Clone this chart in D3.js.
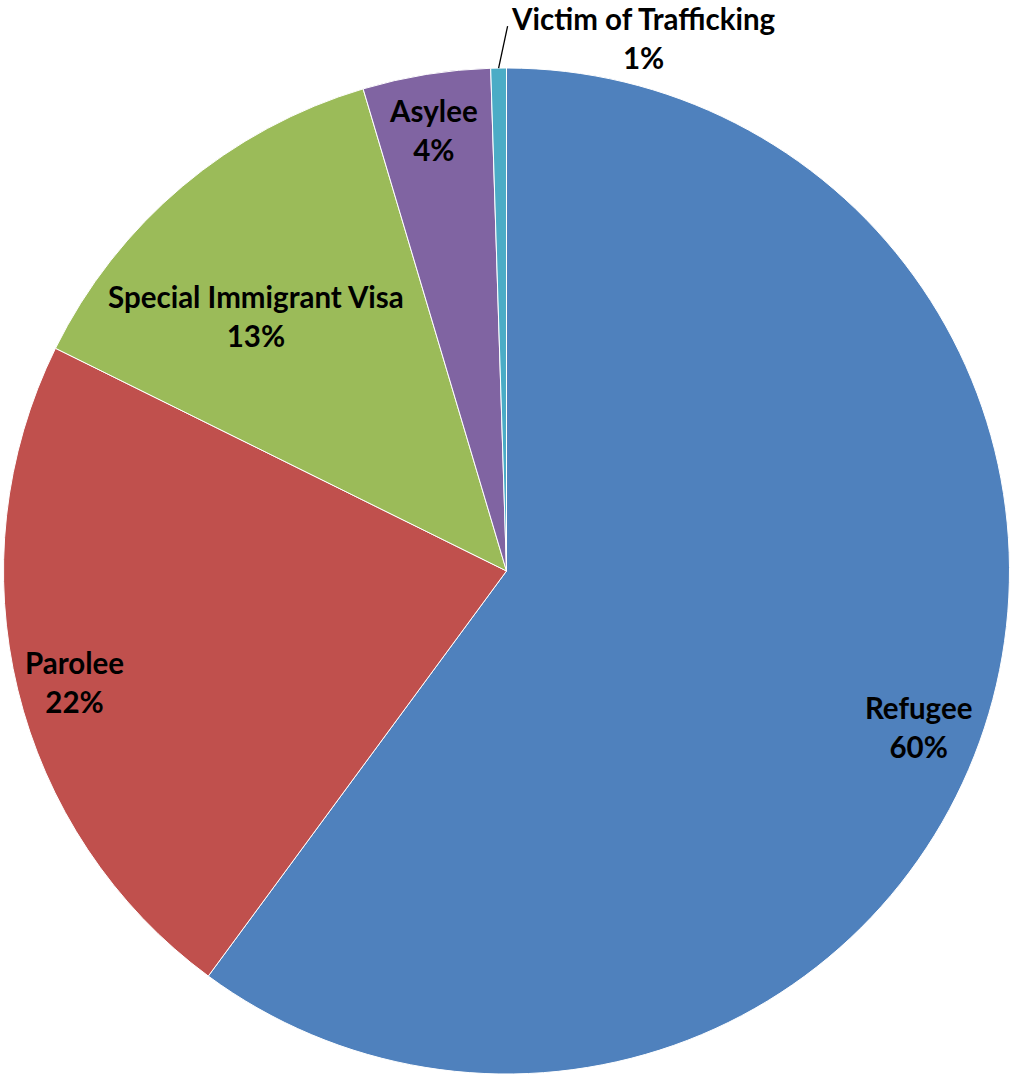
<!DOCTYPE html>
<html>
<head>
<meta charset="utf-8">
<script src="https://cdn.jsdelivr.net/npm/d3@7"></script>
<style>
  html, body { margin: 0; padding: 0; background: #fff; }
  svg { display: block; }
  text { font-family: Lato, "Open Sans", sans-serif; font-weight: bold; fill: #000; }
</style>
</head>
<body>
<svg id="chart" width="1012" height="1076"></svg>
<script>
// Share of arrivals by immigration status (percent)
const categories = ["Refugee", "Parolee", "Special Immigrant Visa", "Asylee", "Victim of Trafficking"];
const shares = [60.1, 22.2, 13.1, 4.1, 0.5];
const colors = ["#4F81BD", "#C0504D", "#9BBB59", "#8064A2", "#4BACC6"];
// label placement: fraction of the radius, and a small angular nudge (degrees) off the bisector
const labelDistance = [0.877, 0.887, 0.709, 0.886, null];
const labelNudge = [2.7, -0.8, -4.5, -0.2, 0];

const svg = d3.select("#chart");
const cx = 506.5, cy = 571, radius = 503;
const g = svg.append("g").attr("transform", `translate(${cx},${cy})`);

const data = categories.map((c, i) => ({
  name: c, value: shares[i], color: colors[i], dist: labelDistance[i], nudge: labelNudge[i]
}));
const total = d3.sum(shares);
const pct = d3.format(".0%");

const pie = d3.pie().sort(null).value(d => d.value);
const arcs = pie(data);
const arc = d3.arc().innerRadius(0).outerRadius(radius);

g.selectAll("path.slice")
  .data(arcs)
  .join("path")
  .attr("class", "slice")
  .attr("d", arc)
  .attr("fill", d => d.data.color)
  .attr("stroke", "#fff")
  .attr("stroke-width", 1);

const mid = d => (d.startAngle + d.endAngle) / 2;
const fontSize = 29.5;
const capHeight = 21;
const lineGap = 39;

// two-line label (name, percentage) centred on (x, y)
function addLabel(x, y, d) {
  const t = g.append("text")
    .attr("text-anchor", "middle")
    .attr("font-size", fontSize);
  const y1 = y + (capHeight - lineGap) / 2;
  t.append("tspan").attr("x", x).attr("y", y1).text(d.data.name);
  t.append("tspan").attr("x", x).attr("y", y1 + lineGap).text(pct(d.data.value / total));
}

arcs.forEach(d => {
  const a = mid(d) + d.data.nudge * Math.PI / 180;
  if (d.data.dist != null) {
    const r = radius * d.data.dist;
    addLabel(Math.sin(a) * r, -Math.cos(a) * r, d);
  } else {
    // thin slice: label sits outside, joined by a leader line
    const x0 = Math.sin(a) * radius, y0 = -Math.cos(a) * radius;
    const x1 = x0 + 9, y1 = y0 - 42;
    g.append("line")
      .attr("x1", x0).attr("y1", y0).attr("x2", x1).attr("y2", y1)
      .attr("stroke", "#000").attr("stroke-width", 1.3);
    addLabel(x1 + 136, y1 + 13, d);
  }
});
</script>
</body>
</html>
